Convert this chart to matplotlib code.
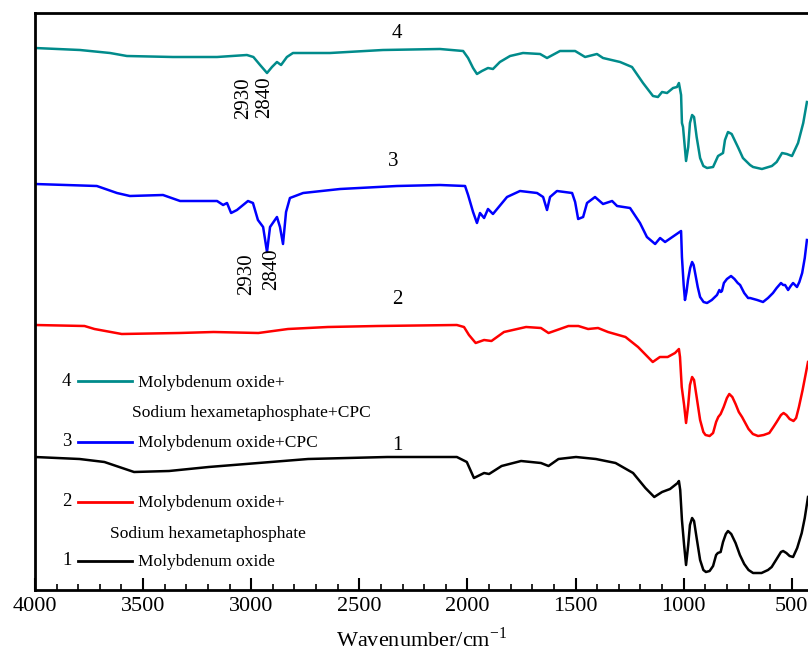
import numpy as np
import matplotlib.pyplot as plt
from matplotlib.ticker import MultipleLocator

plt.rcParams['font.family'] = ['Liberation Serif', 'DejaVu Serif']

# FTIR spectra, transmittance in arbitrary units (curves already offset)
# 1 - Molybdenum oxide
wn1 = [4000, 3794, 3679, 3542, 3380, 3197, 2967, 2737, 2371, 2049, 2003, 1970,
       1923, 1900, 1842, 1752, 1660, 1625, 1579, 1498, 1406, 1315, 1234, 1177,
       1136, 1100, 1063, 1028, 1022, 1016, 1008, 998, 989, 979, 971, 961, 952,
       940, 924, 909, 897, 880, 864, 850, 842, 829, 818, 805, 795, 780, 760,
       740, 720, 700, 679, 640, 610, 593, 570, 550, 540, 525, 510, 494, 475,
       454, 440, 425]
t1 = [133, 131, 128, 118, 119, 123, 127, 131, 133, 133, 128, 112,
      117, 116, 124, 129, 127, 124, 131, 133, 131, 127, 117, 102,
      93, 98, 101, 107, 109, 100, 70, 45, 25, 45, 65, 72, 69,
      52, 30, 20, 18, 19, 24, 35, 37, 38, 48, 56, 59, 56, 47,
      35, 26, 20, 17, 17, 20, 23, 31, 38, 39, 37, 34, 33, 42,
      57, 72, 93]

# 2 - Molybdenum oxide + Sodium hexametaphosphate
wn2 = [4000, 3771, 3725, 3599, 3334, 3174, 2967, 2830, 2646, 2416, 2049, 2016,
       1993, 1962, 1923, 1889, 1831, 1729, 1660, 1625, 1533, 1487, 1442, 1396,
       1350, 1269, 1211, 1143, 1110, 1074, 1040, 1022, 1017, 1009, 998, 989,
       979, 971, 961, 952, 940, 924, 909, 899, 880, 864, 850, 840, 829, 815,
       800, 789, 775, 760, 745, 730, 700, 680, 656, 630, 604, 585, 570, 550,
       538, 525, 510, 492, 480, 467, 450, 425]
t2 = [265, 264, 261, 256, 257, 258, 257, 261, 263, 264, 265, 263,
      255, 247, 250, 249, 258, 263, 262, 257, 264, 264, 261, 262,
      258, 253, 243, 228, 233, 233, 237, 241, 233, 203, 185, 167,
      185, 205, 213, 210, 193, 170, 158, 155, 154, 157, 168, 173, 176, 183,
      192, 196, 193, 186, 178, 173, 161, 156, 154, 155, 157, 163, 168, 175,
      177, 175, 171, 169, 172, 183, 200, 228]

# 3 - Molybdenum oxide + CPC
wn3 = [4000, 3714, 3621, 3561, 3408, 3329, 3158, 3130, 3112, 3093, 3066, 3015,
       2992, 2969, 2945, 2927, 2913, 2881, 2867, 2853, 2839, 2821, 2760, 2589,
       2326, 2127, 2011, 1997, 1974, 1956, 1942, 1923, 1905, 1882, 1817, 1757,
       1678, 1650, 1632, 1618, 1586, 1516, 1502, 1488, 1465, 1447, 1410, 1373,
       1331, 1308, 1248, 1202, 1170, 1132, 1109, 1086, 1012, 1008, 1000, 994,
       987, 980, 970, 961, 954, 947, 935, 924, 908, 892, 870, 846, 835, 828,
       823, 814, 800, 781, 765, 750, 739, 720, 702, 693, 660, 633, 610, 587,
       570, 550, 540, 531, 517, 505, 494, 476, 465, 452, 440, 430]
t3 = [406, 404, 397, 394, 395, 389, 389, 385, 387, 377, 380, 389,
      387, 370, 363, 338, 363, 373, 363, 346, 378, 392, 397, 401,
      404, 405, 404, 395, 378, 367, 377, 372, 381, 376, 393, 399,
      397, 393, 380, 393, 399, 397, 388, 371, 373, 387, 393, 386,
      389, 384, 382, 367, 353, 346, 352, 348, 359, 333, 305, 290,
      298, 310, 322, 328, 325, 317, 303, 293, 288, 287, 290, 295, 300, 298,
      299, 307, 311, 314, 311, 307, 305, 297, 292, 292, 290, 288, 292, 297,
      302, 307, 305, 305, 300, 304, 307, 303, 308, 317, 332, 350]

# 4 - Molybdenum oxide + Sodium hexametaphosphate + CPC
wn4 = [4000, 3792, 3653, 3575, 3362, 3158, 3020, 2990, 2959, 2927, 2904, 2881,
       2862, 2835, 2807, 2636, 2391, 2127, 2020, 1997, 1974, 1956, 1933, 1905,
       1882, 1850, 1803, 1743, 1664, 1632, 1572, 1502, 1456, 1401, 1373, 1294,
       1239, 1188, 1142, 1119, 1100, 1077, 1049, 1031, 1022, 1012, 1008, 1003,
       989, 979, 971, 961, 952, 940, 924, 909, 892, 864, 841, 818, 809, 795,
       778, 747, 726, 693, 679, 638, 592, 570, 545, 523, 499, 471, 447, 430]
t4 = [542, 540, 537, 534, 533, 533, 535, 533, 525, 517, 523, 528,
      525, 533, 537, 537, 540, 541, 539, 532, 522, 516, 519, 522,
      521, 528, 534, 537, 536, 532, 539, 539, 533, 536, 532, 528,
      523, 507, 494, 493, 498, 497, 502, 503, 507, 495, 467, 463,
      429, 443, 467, 475, 473, 453, 432, 424, 422, 423, 434, 437, 450, 458,
      456, 442, 432, 425, 423, 421, 424, 428, 437, 436, 434, 447, 467, 488]

spectra = [(wn1, t1, 'black', '1', 'Molybdenum oxide'),
           (wn2, t2, '#ff0000', '2', 'Molybdenum oxide+'),
           (wn3, t3, '#0000ff', '3', 'Molybdenum oxide+CPC'),
           (wn4, t4, '#008b8b', '4', 'Molybdenum oxide+')]

fig = plt.figure(figsize=(8.08, 6.6), dpi=100)
ax = fig.add_axes([35/808, 70/660, 773/808, 577/660])

for wn, t, c, num, name in spectra:
    ax.plot(wn, t, color=c, lw=1.8)

# curve numbers
ax.text(2326, 556, '4', fontsize=15, ha='center', va='center')
ax.text(2344, 428, '3', fontsize=15, ha='center', va='center')
ax.text(2326, 290, '2', fontsize=15, ha='center', va='center')
ax.text(2326, 145, '1', fontsize=15, ha='center', va='center')

# peak labels
ax.text(3033, 513, '2930', rotation=90, fontsize=15, ha='center', va='top')
ax.text(2937, 514, '2840', rotation=90, fontsize=15, ha='center', va='top')
ax.text(3019, 337, '2930', rotation=90, fontsize=15, ha='center', va='top')
ax.text(2904, 342, '2840', rotation=90, fontsize=15, ha='center', va='top')

# hand-made legend
leg_y = {'4': 0.362, '3': 0.257, '2': 0.153, '1': 0.051}
for wn, t, c, num, name in spectra:
    y = leg_y[num]
    ax.plot([0.0556, 0.1255], [y, y], color=c, lw=2, transform=ax.transAxes)
    ax.text(0.041, y, num, fontsize=13.5, ha='center', va='center',
            transform=ax.transAxes)
    ax.text(0.133, y - 0.003, name, fontsize=12.5, ha='left', va='center',
            transform=ax.transAxes)
ax.text(0.1255, 0.307, 'Sodium hexametaphosphate+CPC', fontsize=12.5,
        ha='left', va='center', transform=ax.transAxes)
ax.text(0.097, 0.097, 'Sodium hexametaphosphate', fontsize=12.5,
        ha='left', va='center', transform=ax.transAxes)

ax.set_xlim(4000, 425)
ax.set_ylim(0, 577)
ax.xaxis.set_major_locator(MultipleLocator(500))
ax.xaxis.set_minor_locator(MultipleLocator(100))
ax.tick_params(axis='x', which='major', direction='in', length=9, width=1.5,
               labelsize=16, pad=5)
ax.tick_params(axis='x', which='minor', direction='in', length=4.5, width=1.2)
ax.set_yticks([])
ax.spines['right'].set_visible(False)
for s in ['left', 'top', 'bottom']:
    ax.spines[s].set_linewidth(2)
ax.set_xlabel(r'Wavenumber/cm$^{\mathregular{-1}}$', fontsize=16, labelpad=8)

fig.savefig('out.png', dpi=100)
